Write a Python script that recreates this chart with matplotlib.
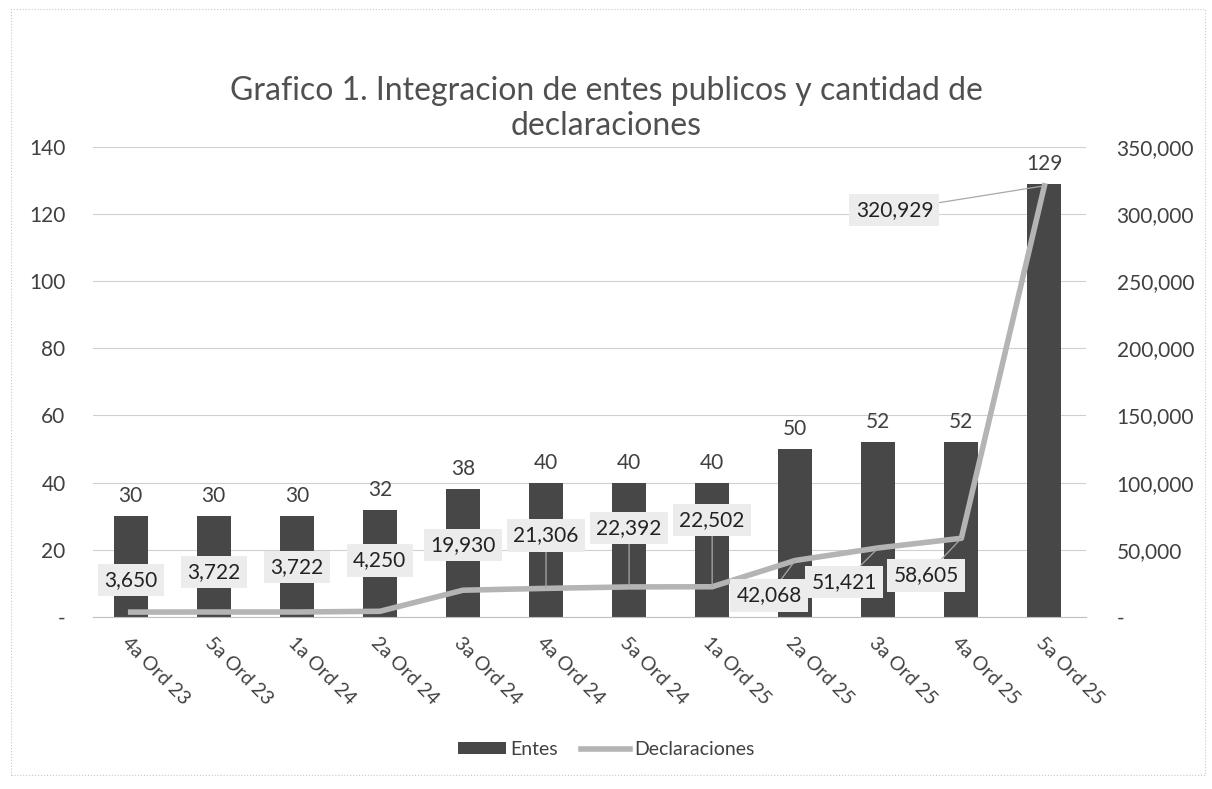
import matplotlib
matplotlib.use("Agg")
from matplotlib import pyplot as plt
from matplotlib.patches import Rectangle
from matplotlib.ticker import FuncFormatter

plt.rcParams['font.family'] = ['Lato', 'DejaVu Sans']

# data
periodos = ['4a Ord 23', '5a Ord 23', '1a Ord 24', '2a Ord 24', '3a Ord 24', '4a Ord 24',
            '5a Ord 24', '1a Ord 25', '2a Ord 25', '3a Ord 25', '4a Ord 25', '5a Ord 25']
entes = [30, 30, 30, 32, 38, 40, 40, 40, 50, 52, 52, 129]
declaraciones = [3650, 3722, 3722, 4250, 19930, 21306, 22392, 22502, 42068, 51421, 58605, 320929]

# where Excel put the line labels (pixels from the point)
lbl_off = [(0, 32), (0, 40), (0, 45), (0, 51), (0, 45), (0, 53),
           (0, 59), (0, 67), (-26, -35), (-34, -34), (-35, -37), (-150, -24)]
leader = [False, False, False, False, False, True, True, True, True, True, True, True]

BAR = '#474747'
LINE = '#b4b4b4'
TXT = '#404040'
GRID = '#d0d0d0'

fig = plt.figure(figsize=(12.12, 7.89), dpi=100)
fig.patches.append(Rectangle((0.009, 0.018), 0.985, 0.97, transform=fig.transFigure,
                             fill=False, ec='#c8c8c8', lw=0.8, ls=':'))

ax = fig.add_axes([0.077, 0.218, 0.819, 0.596])
x = list(range(len(periodos)))
bars = ax.bar(x, entes, width=0.41, color=BAR, label='Entes', zorder=2)
ax.set_ylim(0, 140)
ax.set_xlim(-0.45, len(periodos) - 0.5)
ax.set_yticks(range(0, 141, 20))
ax.yaxis.set_major_formatter(FuncFormatter(lambda v, p: '-' if v == 0 else '%d' % v))
ax.grid(axis='y', color=GRID, lw=0.8, zorder=0)
for s in ['top', 'right', 'left']:
    ax.spines[s].set_visible(False)
ax.spines['bottom'].set_color('#c0c0c0')
ax.tick_params(axis='y', length=0, labelsize=15, colors=TXT, pad=20)
ax.tick_params(axis='x', length=0, colors=TXT, pad=12)
ax.set_xticks(x)
ax.set_xticklabels(periodos, rotation=-45, ha='left', va='top', rotation_mode='anchor',
                   fontsize=14, color=TXT)
for b, v in zip(bars, entes):
    ax.annotate(str(v), (b.get_x() + b.get_width() / 2, v), xytext=(0, 10),
                textcoords='offset pixels', ha='center', va='bottom', fontsize=15, color=TXT)

ax2 = ax.twinx()
line, = ax2.plot(x, declaraciones, color=LINE, lw=4, label='Declaraciones', zorder=3,
                 solid_joinstyle='round')
ax2.set_ylim(0, 350000)
ax2.set_yticks(range(0, 350001, 50000))
ax2.yaxis.set_major_formatter(FuncFormatter(lambda v, p: '-' if v == 0 else '{:,.0f}'.format(v)))
for s in ax2.spines.values():
    s.set_visible(False)
ax2.tick_params(axis='y', length=0, labelsize=15, colors=TXT, pad=22)

for i, v in enumerate(declaraciones):
    ap = dict(arrowstyle='-', color='#a8a8a8', lw=0.9, shrinkA=0, shrinkB=0) if leader[i] else None
    ax2.annotate('{:,}'.format(v), (i, v), xytext=lbl_off[i], textcoords='offset pixels',
                 ha='center', va='center', fontsize=15, color='#222222', arrowprops=ap,
                 bbox=dict(boxstyle='square,pad=0.3', fc='#ececec', ec='none'), zorder=5)

fig.text(0.5, 0.862, 'Grafico 1. Integracion de entes publicos y cantidad de\ndeclaraciones',
         ha='center', va='center', fontsize=23, color='#505050', linespacing=1.2)

fig.legend([bars, line], ['Entes', 'Declaraciones'], loc='center', bbox_to_anchor=(0.5, 0.05),
           ncol=2, frameon=False, fontsize=14, handlelength=2.5, handleheight=0.55,
           columnspacing=1.2, handletextpad=0.2, labelcolor=TXT)

fig.savefig('out.png', dpi=100)
